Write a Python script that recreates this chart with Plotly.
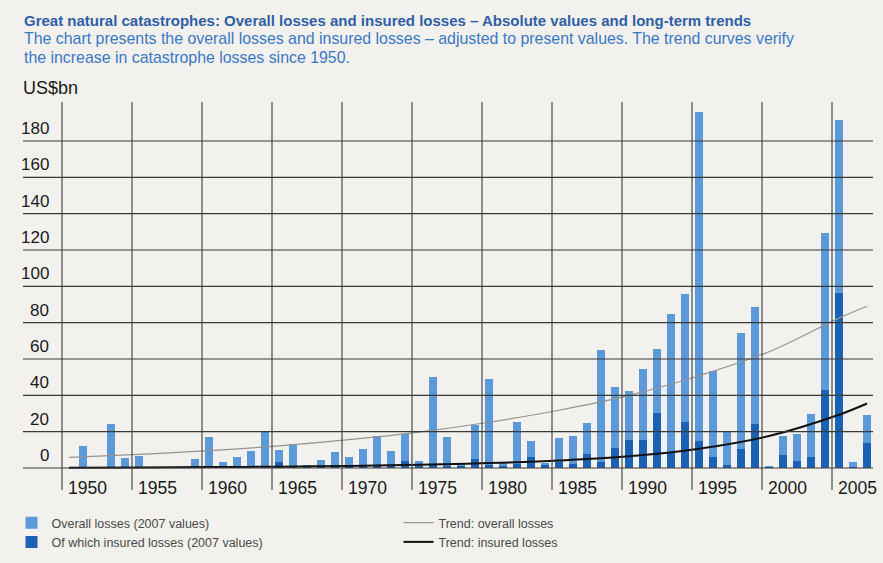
import plotly.graph_objects as go

# ---------------- data ----------------
years = list(range(1950, 2008))
overall_losses = [
    0.0, 12.3, 0.0, 24.0, 5.5, 6.5, 0.0, 0.0, 0.0, 5.2,      # 1950-1959
    17.2, 3.5, 6.0, 9.2, 20.5, 9.9, 13.1, 1.5, 4.5, 8.9,     # 1960-1969
    5.9, 10.6, 17.8, 9.4, 18.7, 4.0, 49.9, 16.9, 3.0, 23.9,  # 1970-1979
    49.0, 2.7, 25.1, 15.0, 2.5, 16.5, 17.7, 24.9, 64.8, 44.8,  # 1980-1989
    42.6, 54.3, 65.3, 84.8, 95.6, 196.1, 53.6, 20.0, 74.1, 88.4,  # 1990-1999
    0.7, 17.4, 18.8, 30.0, 129.5, 191.6, 3.3, 29.3,          # 2000-2007
]
insured_losses = [
    0.0, 0.2, 0.0, 0.3, 0.2, 0.3, 0.0, 0.0, 0.0, 0.2,
    0.4, 0.2, 0.3, 0.4, 0.5, 3.5, 0.8, 1.2, 0.8, 1.2,
    1.2, 1.0, 1.6, 1.2, 3.8, 0.8, 1.6, 1.0, 1.0, 4.8,
    1.5, 1.0, 2.0, 6.2, 1.5, 3.5, 2.0, 7.5, 3.5, 11.2,
    15.2, 15.2, 30.3, 8.5, 25.1, 14.8, 6.0, 1.4, 10.5, 24.1,
    0.4, 7.4, 4.1, 6.0, 43.1, 96.5, 0.5, 13.7,
]
trend_years = [1950, 1955, 1960, 1965, 1970, 1975, 1980, 1985, 1990, 1995, 2000, 2005, 2007]
trend_overall = [5.9, 7.5, 9.6, 12.2, 15.6, 19.8, 25.2, 31.8, 40.0, 50.8, 64.0, 82.5, 89.0]
trend_insured = [0.2, 0.3, 0.5, 0.75, 1.15, 1.75, 2.7, 4.1, 6.4, 10.6, 17.6, 29.3, 35.5]
y_ticks = [0, 20, 40, 60, 80, 100, 120, 140, 160, 180]
x_label_years = [1950, 1955, 1960, 1965, 1970, 1975, 1980, 1985, 1990, 1995, 2000, 2005]

title_text = "Great natural catastrophes: Overall losses and insured losses \u2013 Absolute values and long-term trends"
subtitle_1 = "The chart presents the overall losses and insured losses \u2013 adjusted to present values. The trend curves verify"
subtitle_2 = "the increase in catastrophe losses since 1950."
unit_text = "US$bn"
legend_names = ["Overall losses (2007 values)", "Trend: overall losses",
                "Of which insured losses (2007 values)", "Trend: insured losses"]

# ---------------- layout geometry ----------------
W, H = 883, 563
ML, MR, MT, MB = 23, 10, 102, 73
plot_w = W - ML - MR
plot_h = H - MT - MB
PX_PER_YEAR = 14.0
x_start = 1949.5 - (62 - ML) / PX_PER_YEAR
x_end = x_start + plot_w / PX_PER_YEAR
PX_PER_UNIT = 1.8167
y_top = (468 - MT) / PX_PER_UNIT
y_bot = -((H - MB) - 468) / PX_PER_UNIT

def px_to_paper_x(px):
    return (px - ML) / plot_w

def px_to_paper_y(py):
    return ((H - MB) - py) / plot_h

BG = "#f2f1ed"
LIGHT = "#5b99d8"
DARK = "#1c62b4"
GRID = "#3a3a3a"
NUM_FONT = "Liberation Sans, Arial, sans-serif"
TXT_FONT = "Liberation Sans, Arial, sans-serif"

fig = go.Figure()
fig.add_trace(go.Bar(x=years, y=overall_losses, name=legend_names[0],
                     marker=dict(color=LIGHT, line=dict(width=0)), width=0.64))
fig.add_trace(go.Scatter(x=trend_years, y=trend_overall, name=legend_names[1], mode="lines",
                         line=dict(color="#949494", width=1.2, shape="spline")))
fig.add_trace(go.Bar(x=years, y=insured_losses, name=legend_names[2],
                     marker=dict(color=DARK, line=dict(width=0)), width=0.64))
fig.add_trace(go.Scatter(x=trend_years, y=trend_insured, name=legend_names[3], mode="lines",
                         line=dict(color="#111111", width=2, shape="spline")))

shapes = []
for v in y_ticks:
    shapes.append(dict(type="line", xref="paper", yref="y", x0=0, x1=1, y0=v, y1=v,
                       line=dict(color=GRID, width=1.1), layer="above"))
for yr in x_label_years:
    shapes.append(dict(type="line", xref="x", yref="paper", x0=yr - 0.5, x1=yr - 0.5, y0=0, y1=1,
                       line=dict(color=GRID, width=1.1), layer="above"))

annotations = []
for v in y_ticks:
    annotations.append(dict(text=str(v), xref="paper", yref="y", x=px_to_paper_x(51), y=v,
                            xanchor="right", yanchor="bottom", yshift=1, showarrow=False,
                            font=dict(family=NUM_FONT, size=17, color="#1a1a1a")))
for yr in x_label_years:
    annotations.append(dict(text=str(yr), xref="x", yref="paper", x=yr - 0.5 + 4 / PX_PER_YEAR,
                            y=px_to_paper_y(488), xanchor="left", yanchor="middle", showarrow=False,
                            font=dict(family=NUM_FONT, size=17.5, color="#1a1a1a")))
annotations.append(dict(text="<b>" + title_text + "</b>", xref="paper", yref="paper",
                        x=px_to_paper_x(22), y=px_to_paper_y(20), xanchor="left", yanchor="middle",
                        showarrow=False, font=dict(family=TXT_FONT, size=15, color="#2f5fa5")))
annotations.append(dict(text=subtitle_1, xref="paper", yref="paper",
                        x=px_to_paper_x(22), y=px_to_paper_y(38.5), xanchor="left", yanchor="middle",
                        showarrow=False, font=dict(family=TXT_FONT, size=15.9, color="#3a78c6")))
annotations.append(dict(text=subtitle_2, xref="paper", yref="paper",
                        x=px_to_paper_x(22), y=px_to_paper_y(57.5), xanchor="left", yanchor="middle",
                        showarrow=False, font=dict(family=TXT_FONT, size=15.9, color="#3a78c6")))
annotations.append(dict(text=unit_text, xref="paper", yref="paper",
                        x=px_to_paper_x(21), y=px_to_paper_y(88), xanchor="left", yanchor="middle",
                        showarrow=False, font=dict(family=NUM_FONT, size=18, color="#1a1a1a")))

fig.update_layout(
    width=W, height=H, autosize=False,
    margin=dict(l=ML, r=MR, t=MT, b=MB, pad=0, autoexpand=False),
    paper_bgcolor=BG, plot_bgcolor=BG,
    barmode="overlay", bargap=0,
    showlegend=True,
    legend=dict(orientation="h", x=px_to_paper_x(11.5), xanchor="left",
                y=px_to_paper_y(508), yanchor="top",
                entrywidth=342, entrywidthmode="pixels", traceorder="normal",
                bgcolor="rgba(0,0,0,0)", borderwidth=0, tracegroupgap=0,
                font=dict(family=TXT_FONT, size=12.5, color="#4a4a4a")),
    xaxis=dict(range=[x_start, x_end], showgrid=False, zeroline=False, showticklabels=False,
               ticks="", showline=False, fixedrange=True),
    yaxis=dict(range=[y_bot, y_top], showgrid=False, zeroline=False, showticklabels=False,
               ticks="", showline=False, fixedrange=True),
    shapes=shapes, annotations=annotations,
)

fig.write_html("out.html", config={"displayModeBar": False},
               post_script="document.body.style.margin='0px';"
                           "document.body.style.background='" + BG + "';")
